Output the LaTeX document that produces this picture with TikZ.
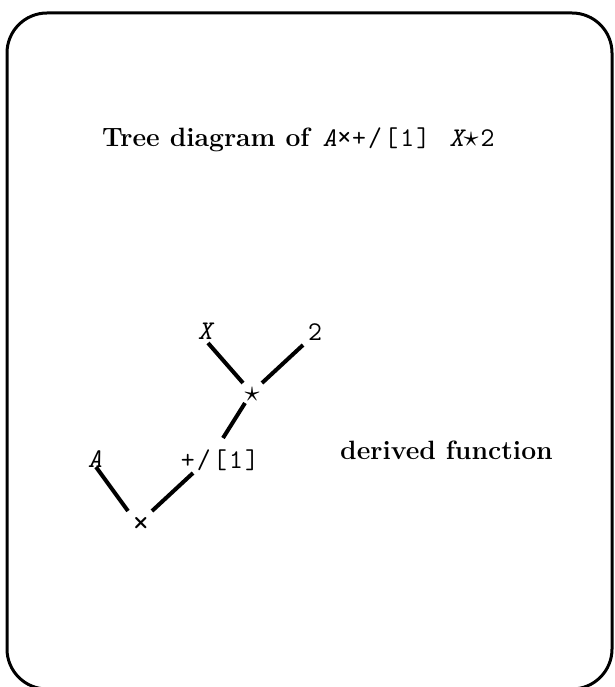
\documentclass[tikz,border=0pt]{standalone}
\usepackage{fontspec}
\newfontfamily\aplfont{Latin Modern Mono}[LetterSpace=8]
\usetikzlibrary{calc}
\newcommand{\aplstar}{{\normalsize\raisebox{1pt}{\scalebox{3}{$\star$}}}}
\newcommand{\apltimes}[1]{{\mdseries\fontsize{#1}{30}\aplfont ×}}
\tikzset{
  frame/.style={line width=3pt, rounded corners=40pt},
  conn/.style={line width=4pt},
  serif/.style={font=\fontsize{26.5}{30}\selectfont\bfseries, inner sep=0pt, anchor=base west},
  apl/.style={font=\mdseries\fontsize{27}{30}\aplfont, inner sep=0pt, anchor=base},
  sym/.style={inner sep=0pt, anchor=center}
}
\begin{document}
\begin{tikzpicture}[x=1pt,y=-1pt]
\useasboundingbox (0,0) rectangle (614,687);
\begin{scope}
\clip (0,0) rectangle (614,687);
\draw[frame] (7,13) rectangle (612,689);
\end{scope}
% title
\node[serif] (title) at (102,147) {Tree diagram of\hspace{13pt}{\mdseries\fontsize{27}{30}\aplfont{\itshape A}\apltimes{30}+/[1]\hspace{3pt} {\itshape X}\aplstar\hspace{2pt}2}};
% tree
\node[apl] (X) at (205,339) {\itshape X};
\node[apl] (two) at (315,340) {2};
\node[sym] (st) at (252,395) {\aplstar};
\node[apl] (A) at (95,467) {\itshape A};
\node[apl] (pf) at (220,468) {+/[1]};
\node[sym] (times) at (141,525) {\apltimes{34}};
\node[serif] (der) at (340,459) {derived function};
% connectors
\draw[conn] ($(X.base)+(3,4)$) -- ($(st)+(-9,-12)$);
\draw[conn] ($(two.base)+(-12,5)$) -- ($(st)+(10,-12)$);
\draw[conn] ($(st)+(-7,8)$) -- ($(pf.base)+(3,-30)$);
\draw[conn] ($(A.base)+(1,0)$) -- ($(times)+(-13,-14)$);
\draw[conn] ($(pf.base)+(-27,5)$) -- ($(times)+(11,-14)$);
\end{tikzpicture}
\end{document}
